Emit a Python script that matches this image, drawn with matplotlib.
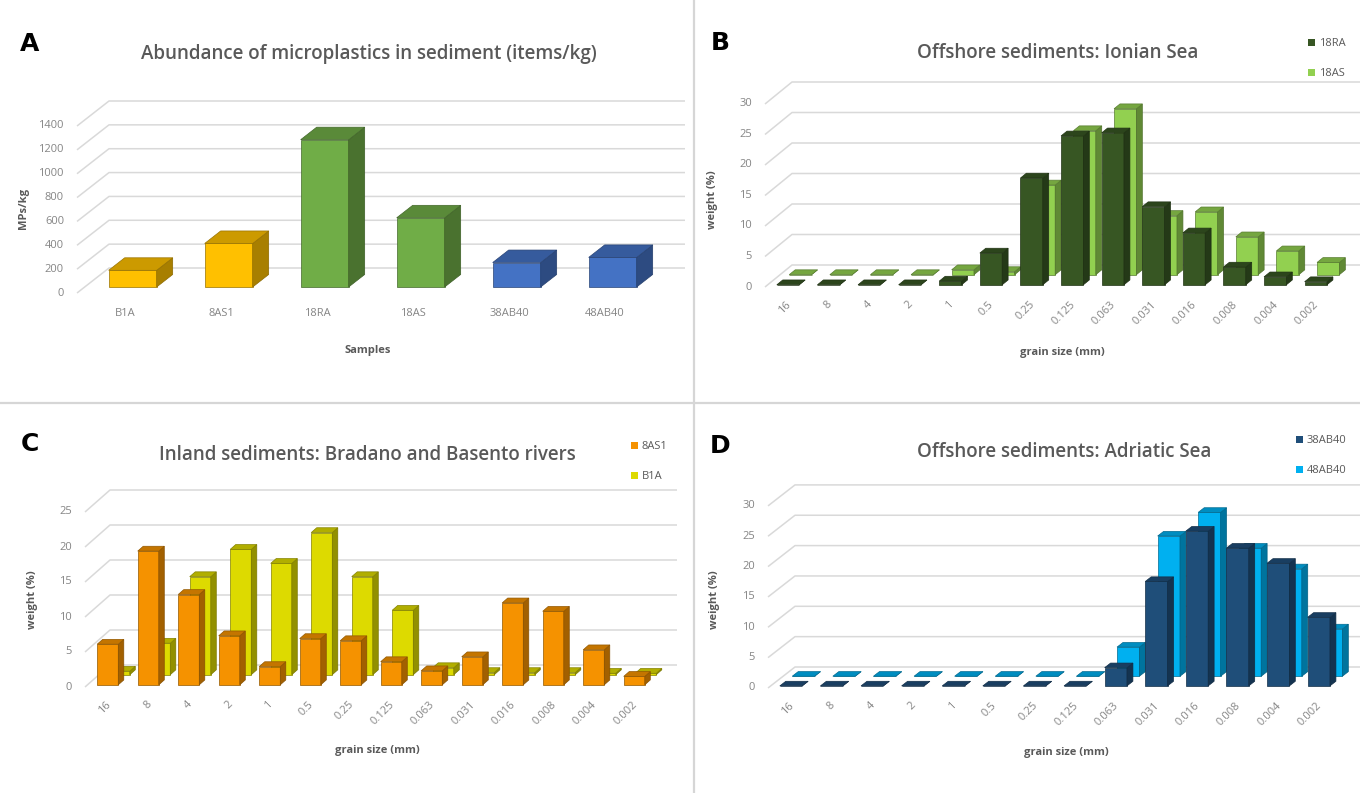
import matplotlib
matplotlib.use("Agg")
import matplotlib.pyplot as plt
from matplotlib.patches import Polygon, Patch
from matplotlib.lines import Line2D
from matplotlib.transforms import offset_copy
from matplotlib.colors import to_rgb

plt.rcParams['font.family'] = ['Open Sans', 'DejaVu Sans']

# ---- data -------------------------------------------------------------
samples = ["B1A", "8AS1", "18RA", "18AS", "38AB40", "48AB40"]
abundance = [140, 365, 1235, 580, 205, 248]
sample_colors = ["#FFC000", "#FFC000", "#70AD47", "#70AD47", "#4472C4", "#4472C4"]

grain_sizes = ["16", "8", "4", "2", "1", "0.5", "0.25", "0.125",
               "0.063", "0.031", "0.016", "0.008", "0.004", "0.002"]

ionian_18RA = [0, 0, 0, 0, 0.6, 5.2, 17.5, 24.4, 24.9, 12.8, 8.5, 2.9, 1.3, 0.5]
ionian_18AS = [0, 0, 0, 0, 0.8, 0.5, 14.7, 23.6, 27.2, 9.7, 10.3, 6.2, 3.9, 2.0]

rivers_8AS1 = [5.8, 19.1, 12.9, 7.0, 2.6, 6.6, 6.3, 3.3, 2.0, 4.0, 11.7, 10.5, 5.0, 1.2]
rivers_B1A = [0.5, 4.5, 14.0, 17.9, 15.9, 20.3, 14.0, 9.2, 1.0, 0.3, 0.3, 0.3, 0.2, 0.2]

adriatic_38AB40 = [0, 0, 0, 0, 0, 0, 0, 0, 3.0, 17.2, 25.5, 22.7, 20.2, 11.3]
adriatic_48AB40 = [0, 0, 0, 0, 0, 0, 0, 0, 4.8, 23.1, 27.0, 21.1, 17.7, 7.8]

# ---- figure -----------------------------------------------------------
W, H = 1360, 793
fig = plt.figure(figsize=(W / 100, H / 100), dpi=100)
fig.patch.set_facecolor("white")

GRID = "#d9d9d9"
TICK = "#858585"
TEXT = "#595959"


def shade(c, f):
    r, g, b = to_rgb(c)
    return (r * f, g * f, b * f)


def make_panel(x0, y0, slot, n, ppu, vmax, step, depth_px):
    """Axes whose data box is the front face of the 3-D floor/wall frame."""
    ax = fig.add_axes([x0 / W, (H - y0) / H, n * slot / W, vmax * ppu / H])
    ax.set_xlim(0, n)
    ax.set_ylim(0, vmax)
    ax.axis("off")
    ddx = depth_px[0] / slot
    ddy = depth_px[1] / ppu
    ticks = list(range(0, vmax + 1, step))
    for v in ticks:
        ax.plot([0, ddx, n + ddx], [v, v + ddy, v + ddy], color=GRID, lw=1.1,
                clip_on=False, zorder=0, solid_capstyle="butt")
        ax.text(0, v, str(v), transform=offset_copy(ax.transData, fig=fig, x=-13, y=0, units="dots"),
                ha="right", va="center", fontsize=8, color=TICK)
    return ax, ddx, ddy


def bars3d(ax, values, colors, s, bd, w, ddx, ddy, z):
    n = len(values)
    xs = [i + 0.5 + s * ddx for i in range(n)]
    yb = s * ddy
    ax.bar(xs, values, width=w, bottom=yb, color=colors,
           edgecolor=[shade(c, 0.6) for c in colors], linewidth=0.5,
           clip_on=False, zorder=z)
    ex, ey = bd * ddx, bd * ddy
    for x, v, c in zip(xs, values, colors):
        xl, xr = x - w / 2, x + w / 2
        yt = yb + v
        top = Polygon([(xl, yt), (xr, yt), (xr + ex, yt + ey), (xl + ex, yt + ey)],
                      closed=True, facecolor=shade(c, 0.8), edgecolor=shade(c, 0.6),
                      linewidth=0.5, clip_on=False, zorder=z)
        side = Polygon([(xr, yb), (xr + ex, yb + ey), (xr + ex, yt + ey), (xr, yt)],
                       closed=True, facecolor=shade(c, 0.66), edgecolor=shade(c, 0.55),
                       linewidth=0.5, clip_on=False, zorder=z)
        ax.add_patch(side)
        ax.add_patch(top)


def grain_labels(ax):
    for i, lab in enumerate(grain_sizes):
        ax.text(i + 0.5, 0, lab,
                transform=offset_copy(ax.transData, fig=fig, x=4, y=-16, units="dots"),
                ha="right", va="center", rotation=45, rotation_mode="anchor",
                fontsize=8, color=TICK)


def ftext(x, y, s, **kw):
    fig.text(x / W, 1 - y / H, s, **kw)


def legend(ax, labels, colors, x, y):
    handles = [Patch(facecolor=c, edgecolor="none", label=l) for l, c in zip(labels, colors)]
    ax.legend(handles=handles, loc="upper left", bbox_to_anchor=(x / W, 1 - y / H),
              bbox_transform=fig.transFigure, frameon=False, fontsize=8,
              handlelength=0.6, handleheight=0.6, handletextpad=0.35,
              labelspacing=1.75, borderpad=0, borderaxespad=0, labelcolor=TEXT)


# ---- A: abundance -----------------------------------------------------
axA, dxA, dyA = make_panel(77, 293, 96, 6, 167 / 1400, 1400, 200, (32, 25))
bars3d(axA, abundance, sample_colors, 0.24, 0.5, 0.5, dxA, dyA, 3)
for i, lab in enumerate(samples):
    axA.text(i + 0.5, 0, lab, transform=offset_copy(axA.transData, fig=fig, x=0, y=-20, units="dots"),
             ha="center", va="center", fontsize=8, color=TICK)
ftext(369, 54, "Abundance of microplastics in sediment (items/kg)", ha="center", va="center",
      fontsize=13.5, color=TEXT, fontweight="semibold")
ftext(368, 350, "Samples", ha="center", va="center", fontsize=8, color=TEXT, fontweight="bold")
ftext(24, 208, "MPs/kg", ha="center", va="center", fontsize=8, color=TEXT,
      fontweight="bold", rotation=90)

# ---- B: Ionian Sea ----------------------------------------------------
axB, dxB, dyB = make_panel(765, 287, 40.6, 14, 6.1, 30, 5, (27, 22))
bars3d(axB, ionian_18AS, ["#92D050"] * 14, 0.56, 0.22, 0.55, dxB, dyB, 2)
bars3d(axB, ionian_18RA, ["#375623"] * 14, 0.10, 0.22, 0.55, dxB, dyB, 3)
grain_labels(axB)
ftext(1058, 53, "Offshore sediments: Ionian Sea", ha="center", va="center", fontsize=13.5,
      color=TEXT, fontweight="semibold")
ftext(1062, 352, "grain size (mm)", ha="center", va="center", fontsize=8, color=TEXT, fontweight="bold")
ftext(712, 200, "weight (%)", ha="center", va="center", fontsize=8, color=TEXT,
      fontweight="bold", rotation=90)
legend(axB, ["18RA", "18AS"], ["#375623", "#92D050"], 1308, 38)

# ---- C: Bradano and Basento rivers -------------------------------------
axC, dxC, dyC = make_panel(85, 687, 40.5, 14, 7.0, 25, 5, (25, 22))
bars3d(axC, rivers_B1A, ["#DDDA00"] * 14, 0.56, 0.22, 0.52, dxC, dyC, 2)
bars3d(axC, rivers_8AS1, ["#F59200"] * 14, 0.10, 0.22, 0.52, dxC, dyC, 3)
grain_labels(axC)
ftext(367, 455, "Inland sediments: Bradano and Basento rivers", ha="center", va="center",
      fontsize=13.5, color=TEXT, fontweight="semibold")
ftext(377, 750, "grain size (mm)", ha="center", va="center", fontsize=8, color=TEXT, fontweight="bold")
ftext(32, 600, "weight (%)", ha="center", va="center", fontsize=8, color=TEXT,
      fontweight="bold", rotation=90)
legend(axC, ["8AS1", "B1A"], ["#F59200", "#DDDA00"], 631, 441)

# ---- D: Adriatic Sea --------------------------------------------------
axD, dxD, dyD = make_panel(768, 688, 40.6, 14, 6.07, 30, 5, (27, 21))
bars3d(axD, adriatic_48AB40, ["#00B0F0"] * 14, 0.56, 0.22, 0.55, dxD, dyD, 2)
bars3d(axD, adriatic_38AB40, ["#1F4E79"] * 14, 0.10, 0.22, 0.55, dxD, dyD, 3)
grain_labels(axD)
ftext(1064, 452, "Offshore sediments: Adriatic Sea", ha="center", va="center", fontsize=13.5,
      color=TEXT, fontweight="semibold")
ftext(1066, 753, "grain size (mm)", ha="center", va="center", fontsize=8, color=TEXT, fontweight="bold")
ftext(715, 600, "weight (%)", ha="center", va="center", fontsize=8, color=TEXT,
      fontweight="bold", rotation=90)
legend(axD, ["38AB40", "48AB40"], ["#1F4E79", "#00B0F0"], 1296, 435)

# ---- panel letters and separators -------------------------------------
for lab, x, y in [("A", 30, 44), ("B", 720, 43), ("C", 30, 444), ("D", 720, 446)]:
    ftext(x, y, lab, ha="center", va="center", fontsize=18, fontweight="heavy",
          color="black", family="DejaVu Sans")

fig.add_artist(Line2D([694 / W, 694 / W], [0, 1], transform=fig.transFigure, color="#d6d6d6", lw=1.6))
fig.add_artist(Line2D([0, 1], [1 - 403 / H, 1 - 403 / H], transform=fig.transFigure, color="#d6d6d6", lw=1.6))

fig.savefig("out.png", dpi=100, facecolor="white")
